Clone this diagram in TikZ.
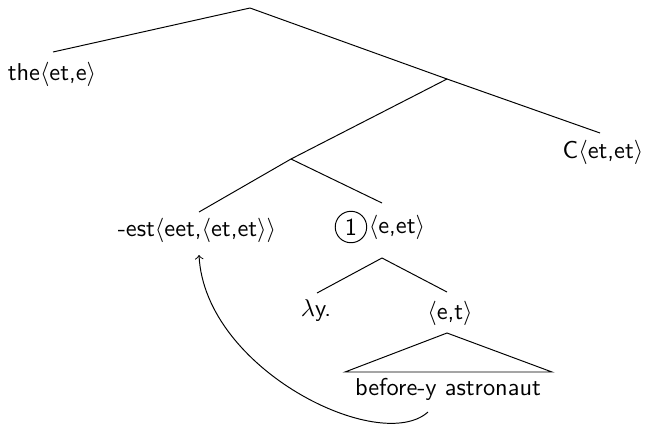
\documentclass[tikz,border=0pt]{standalone}
\usepackage{amsmath, amssymb}
\usetikzlibrary{positioning}

\begin{document}
\begin{tikzpicture}[x=0.41pt, y=-0.41pt, every node/.style={font=\sffamily, inner sep=0pt}]
          \useasboundingbox (0,0) rectangle (646,426);

          % tree points
          \coordinate (root) at (250,8);
          \coordinate (the-e) at (53,52);
          \coordinate (x) at (447,79);
          \coordinate (c-e) at (600,133);
          \coordinate (y) at (291,159);
          \coordinate (est-e) at (199,212);
          \coordinate (one-e) at (382,203);
          \coordinate (one-b) at (382,258);
          \coordinate (lam-e) at (317,293);
          \coordinate (et-e) at (447,292);
          \coordinate (tri-top) at (447,333);
          \coordinate (tri-l) at (345,372);
          \coordinate (tri-r) at (552,372);
          \coordinate (trace) at (428,412);
          \coordinate (est-b) at (199,255);

          % labels
          \node (the) at (52,74) {the$\langle$et,e$\rangle$};
          \node (c) at (603,152) {C$\langle$et,et$\rangle$};
          \node (est) at (197,230) {-est$\langle$eet,$\langle$et,et$\rangle\rangle$};
          \node (eet) at (397,227) {$\langle$e,et$\rangle$};
          \node[circle, draw, inner sep=1.6pt, left=0.5pt of eet] (one) {1};
          \node (lam) at (316,311) {$\lambda$y.};
          \node (et) at (450,313) {$\langle$e,t$\rangle$};
          \node (words) at (448,389) {before-y astronaut};

          \draw (root) -- (the-e);
          \draw (root) -- (x) -- (c-e);
          \draw (x) -- (y) -- (est-e);
          \draw (y) -- (one-e);
          \draw (one-b) -- (lam-e);
          \draw (one-b) -- (et-e);
          \draw (tri-top) -- (tri-l) -- (tri-r) -- cycle;
          \draw[->] (trace) .. controls (380,455) and (205,370) .. (est-b);
        \end{tikzpicture}
\end{document}
